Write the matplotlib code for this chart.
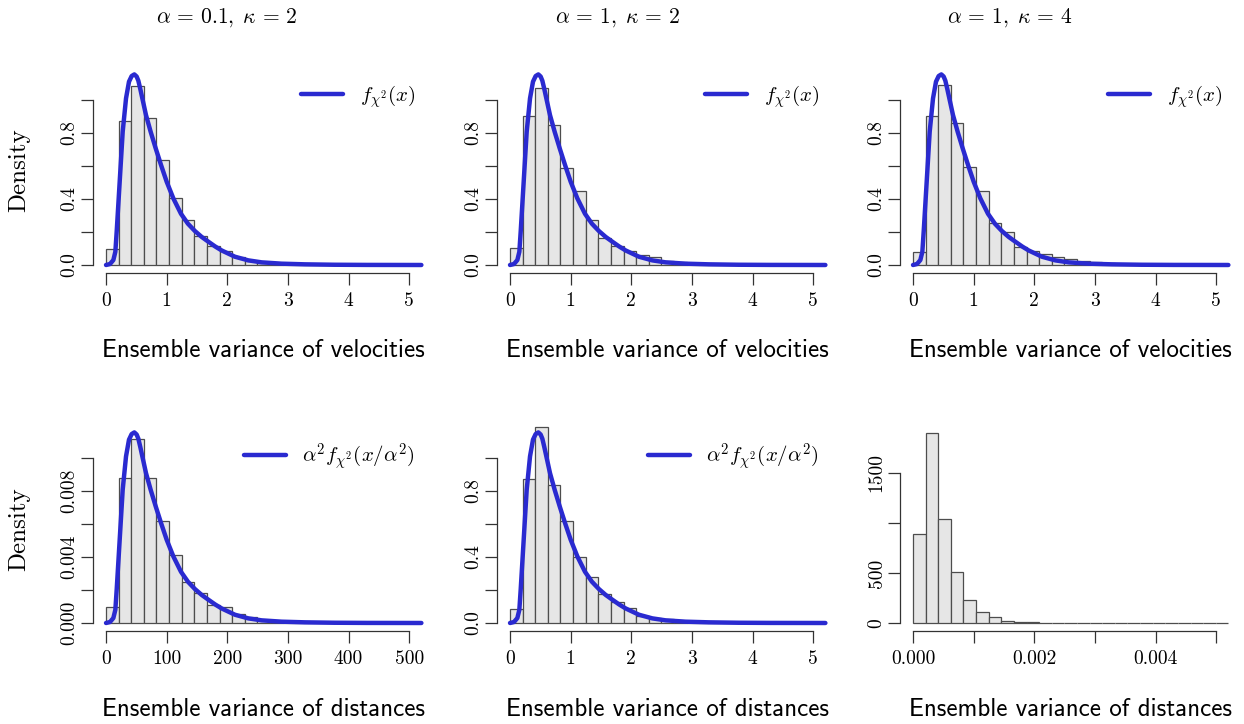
import numpy as np
import matplotlib
matplotlib.use("Agg")
import matplotlib.pyplot as plt

plt.rcParams["mathtext.fontset"] = "cm"
plt.rcParams["axes.unicode_minus"] = False

# ---- data -------------------------------------------------------------
# histograms: 25 equal bins over [0, xmax], densities (counts for the last one)
hist_vel_a01_k2 = [0.097, 0.871, 1.085, 0.891, 0.637, 0.405, 0.270, 0.175, 0.117, 0.086,
                   0.046, 0.026, 0.013, 0.008, 0.005, 0.003, 0.002, 0.001, 0.001, 0.0,
                   0.0, 0.0, 0.0, 0.0, 0.0]
hist_vel_a1_k2 = [0.100, 0.901, 1.068, 0.847, 0.588, 0.449, 0.270, 0.161, 0.113, 0.085,
                  0.060, 0.046, 0.026, 0.016, 0.010, 0.006, 0.004, 0.002, 0.001, 0.001,
                  0.0, 0.0, 0.0, 0.0, 0.0]
hist_vel_a1_k4 = [0.080, 0.902, 1.090, 0.858, 0.591, 0.445, 0.257, 0.198, 0.110, 0.084,
                  0.068, 0.046, 0.034, 0.024, 0.016, 0.010, 0.006, 0.004, 0.002, 0.001,
                  0.0, 0.0, 0.0, 0.0, 0.0]
hist_dist_a01_k2 = [0.00099, 0.00877, 0.01111, 0.00877, 0.00616, 0.00410, 0.00245, 0.00183,
                    0.00109, 0.00095, 0.00052, 0.00034, 0.00020, 0.00014, 0.00008, 0.00006,
                    0.00004, 0.00002, 0.00001, 0.0, 0.0, 0.0, 0.0, 0.0, 0.0]
hist_dist_a1_k2 = [0.087, 0.869, 1.183, 0.837, 0.616, 0.398, 0.278, 0.175, 0.127, 0.091,
                   0.042, 0.030, 0.024, 0.014, 0.008, 0.005, 0.003, 0.002, 0.001, 0.0,
                   0.0, 0.0, 0.0, 0.0, 0.0]
hist_dist_a1_k4 = [894, 1898, 1043, 510, 232, 109, 60, 20, 10, 5,
                   3, 2, 1, 1, 0, 0, 0, 0, 0, 0,
                   0, 0, 0, 0, 0]

# reference density curve f_chi2(x), read point by point
curve_x = [0.0, 0.066, 0.121, 0.154, 0.176, 0.209, 0.242, 0.275, 0.330, 0.379,
           0.423, 0.467, 0.505, 0.533, 0.565, 0.599, 0.659, 0.736, 0.819, 0.907,
           1.000, 1.110, 1.236, 1.350, 1.467, 1.577, 1.687, 1.800, 1.907, 2.126,
           2.346, 2.566, 2.896, 3.280, 3.770, 4.300, 5.200]
curve_y = [0.0, 0.006, 0.030, 0.080, 0.202, 0.403, 0.605, 0.806, 1.008, 1.109,
           1.143, 1.153, 1.140, 1.115, 1.065, 1.008, 0.907, 0.806, 0.706, 0.605,
           0.504, 0.403, 0.310, 0.250, 0.205, 0.170, 0.141, 0.112, 0.088, 0.050,
           0.028, 0.016, 0.008, 0.004, 0.0015, 0.0005, 0.0]

titles = [r"$\alpha\,=\,0.1,\;\kappa\,=\,2$", r"$\alpha\,=\,1,\;\kappa\,=\,2$",
          r"$\alpha\,=\,1,\;\kappa\,=\,4$"]

BLUE = "#2a2ad0"
AXC = "#333333"

W, H = 1244, 724
fig = plt.figure(figsize=(W / 100, H / 100), dpi=100)
col_left = [93.4, 497.4, 900.4]
row_bottom = [272.7, 630.7]
ax_w, ax_h = 340.6, 208.0


def make_ax(r, c):
    return fig.add_axes([col_left[c] / W, (H - row_bottom[r]) / H, ax_w / W, ax_h / H])


def panel(ax, heights, xmax, ymax, xticks, xlabels, yticks, ylabels,
          cx=None, cy=None, leg=None):
    bw = xmax / len(heights)
    edges = np.arange(len(heights)) * bw
    ax.bar(edges, heights, width=bw, align="edge", color="#e6e6e6",
           edgecolor="#4d4d4d", linewidth=0.9, zorder=2)
    if cx is not None:
        ax.plot(cx, cy, color=BLUE, lw=3.2, solid_capstyle="round",
                solid_joinstyle="round", zorder=3, label=leg)
        ax.legend(loc="upper right", frameon=False, fontsize=15, handlelength=2.0,
                  handletextpad=0.8, borderaxespad=0.5, borderpad=0.4)
    ax.set_xlim(-0.04 * xmax, 1.04 * xmax)
    ax.set_ylim(-0.04 * ymax, 1.04 * ymax)
    for s in ["top", "right"]:
        ax.spines[s].set_visible(False)
    ax.spines["left"].set_bounds(yticks[0], yticks[-1])
    ax.spines["bottom"].set_bounds(xticks[0], xticks[-1])
    for s in ["left", "bottom"]:
        ax.spines[s].set_color(AXC)
        ax.spines[s].set_linewidth(0.9)
    ax.set_xticks(xticks)
    ax.set_xticklabels(xlabels, fontfamily="cmr10", fontsize=14)
    ax.set_yticks(yticks)
    ax.set_yticklabels(ylabels, fontfamily="cmr10", fontsize=14, rotation=90, va="center")
    ax.tick_params(axis="both", direction="out", length=8.6, width=0.9, color=AXC)
    ax.tick_params(axis="x", pad=5)
    ax.tick_params(axis="y", pad=2)
    ax.patch.set_alpha(0)


vel_ticks = [0, 1, 2, 3, 4, 5]
vel_labels = ["0", "1", "2", "3", "4", "5"]
dens_ticks = [0, 0.2, 0.4, 0.6, 0.8, 1.0]
dens_labels = ["0.0", "", "0.4", "", "0.8", ""]

leg1 = r"$f_{\chi^2}(x)$"
leg2 = r"$\alpha^2 f_{\chi^2}(x/\alpha^2)$"

ax = make_ax(0, 0)
panel(ax, hist_vel_a01_k2, 5.2, 1.165, vel_ticks, vel_labels, dens_ticks, dens_labels,
      curve_x, curve_y, leg1)
ax = make_ax(0, 1)
panel(ax, hist_vel_a1_k2, 5.2, 1.165, vel_ticks, vel_labels, dens_ticks, dens_labels,
      curve_x, curve_y, leg1)
ax = make_ax(0, 2)
panel(ax, hist_vel_a1_k4, 5.2, 1.165, vel_ticks, vel_labels, dens_ticks, dens_labels,
      curve_x, curve_y, leg1)

# alpha = 0.1 -> curve rescaled by alpha^2
a2 = 0.1 ** 2
ax = make_ax(1, 0)
panel(ax, hist_dist_a01_k2, 520, 0.01165, [0, 100, 200, 300, 400, 500],
      ["0", "100", "200", "300", "400", "500"],
      [0, 0.002, 0.004, 0.006, 0.008, 0.010], ["0.000", "", "0.004", "", "0.008", ""],
      np.array(curve_x) / a2, np.array(curve_y) * a2, leg2)
ax = make_ax(1, 1)
panel(ax, hist_dist_a1_k2, 5.2, 1.165, vel_ticks, vel_labels, dens_ticks, dens_labels,
      curve_x, curve_y, leg2)
ax = make_ax(1, 2)
panel(ax, hist_dist_a1_k4, 0.0052, 1925, [0, 0.001, 0.002, 0.003, 0.004, 0.005],
      ["0.000", "", "0.002", "", "0.004", ""],
      [0, 500, 1000, 1500], ["0", "500", "", "1500"])

# labels
for c in range(3):
    xc = (col_left[c] + ax_w / 2) / W
    fig.text(xc, (H - 356.7) / H, "Ensemble variance of velocities", fontfamily="cmss10",
             fontsize=18, ha="center", va="baseline")
    fig.text(xc, (H - 716) / H, "Ensemble variance of distances", fontfamily="cmss10",
             fontsize=18, ha="center", va="baseline")

fig.text(19 / W, (H - 170) / H, "Density", fontfamily="cmr10", fontsize=18,
         rotation=90, ha="center", va="center")
fig.text(19 / W, (H - 529) / H, "Density", fontfamily="cmr10", fontsize=18,
         rotation=90, ha="center", va="center")

for xpix, t in zip([227, 617, 1010], titles):
    fig.text(xpix / W, (H - 18) / H, t, fontsize=15.5, ha="center", va="center")

fig.savefig("out.png", dpi=100)
